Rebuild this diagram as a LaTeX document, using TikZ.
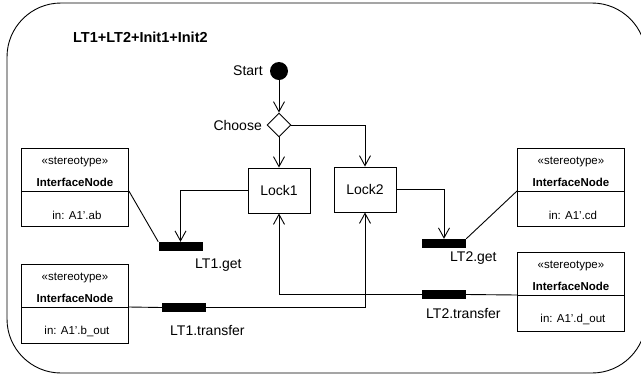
\documentclass[tikz,border=0pt]{standalone}
\usepackage{fontspec}
\setmainfont{Liberation Sans}
\usetikzlibrary{arrows.meta,shapes.geometric}

\tikzset{
  ln/.style={line width=0.9pt},
  arr/.style={ln,-{Straight Barb[length=10pt,width=11pt,line width=0.9pt]}},
  lbl/.style={inner sep=0pt,font=\fontsize{14}{16}\selectfont},
  action/.style={ln,draw,rectangle,minimum width=62pt,minimum height=45pt,inner sep=0pt,font=\fontsize{14}{16}\selectfont},
  bar/.style={fill=black,rectangle,minimum width=44pt,minimum height=9pt,inner sep=0pt},
  ifbox/.style={ln,draw,rectangle,minimum width=107pt,inner sep=0pt},
  stereo/.style={inner sep=0pt,font=\fontsize{11.5}{13}\selectfont},
  stereobf/.style={inner sep=0pt,font=\fontsize{11.5}{13}\selectfont\bfseries},
}

% interface node: name, left x, top y, height, port text
\newcommand{\ifacebox}[5]{%
  \node[ifbox,minimum height=#4pt,anchor=north west] (#1) at (#2,#3) {};
  \path (#1.north west) ++(0,43) coordinate (#1-dl);
  \path (#1.north east) ++(0,43) coordinate (#1-dr);
  \draw[ln] (#1-dl) -- (#1-dr);
  \path (#1.north) ++(0,14) node[stereo] {«stereotype»};
  \path (#1.north) ++(0,34) node[stereobf] {InterfaceNode};
  \path (#1.north) ++(2,67) node[stereo] {#5};
}

\begin{document}
\begin{tikzpicture}[x=1pt,y=-1pt]
\useasboundingbox (0,0) rectangle (641,376);

% activity frame (its right side runs past the page edge)
\draw[ln,rounded corners=54pt] (7,3) rectangle (646,373);
\node[inner sep=0pt,anchor=west,font=\fontsize{14.5}{17}\selectfont\bfseries] (title) at (73,37) {LT1+LT2+Init1+Init2};

% control flow
\node[circle,fill=black,minimum size=18pt,inner sep=0pt] (start) at (279,71) {};
\node[ln,draw,diamond,minimum width=24pt,minimum height=24pt,inner sep=0pt] (choose) at (279,125) {};
\node[lbl,anchor=east] (startlbl) at (263,71) {Start};
\node[lbl,anchor=east] (chooselbl) at (262,125) {Choose};

\node[action] (lock1) at (279,190.5) {Lock1};
\node[action] (lock2) at (365,189.5) {Lock2};

% pins
\node[bar] (get1) at (180.5,246.5) {};
\node[bar] (get2) at (444,243.5) {};
\node[bar] (tr1) at (184,307.5) {};
\node[bar] (tr2) at (444,294.5) {};

\node[lbl,anchor=west] (get1lbl) at (195,265) {LT1.get};
\node[lbl,anchor=west] (tr1lbl) at (170,330) {LT1.transfer};
\node[lbl,anchor=west] (get2lbl) at (450,258) {LT2.get};
\node[lbl,anchor=west] (tr2lbl) at (426,313) {LT2.transfer};

% interface nodes
\ifacebox{b1}{21}{148}{78}{in: A1’.ab}
\ifacebox{b3}{517}{148}{78}{in: A1’.cd}
\ifacebox{b2}{21}{264}{79}{in: A1’.b\_out}
\ifacebox{b4}{517}{252}{79}{in: A1’.d\_out}

% edges
\draw[arr] (start) -- (choose.north);
\draw[arr] (choose.south) -- (lock1.north);
\draw[arr] (choose.east) -| (lock2.north);
\draw[arr] (lock1.west) -| (get1.north);
\draw[arr] (lock2.east) -| (get2.north);
\draw[ln] (b1-dr) -- (get1.north west);
\draw[ln] (get2.north east) -- (b3-dl);
\draw[ln] (b2-dr) -- (tr1.west);
\draw[arr] (tr1.east) -| (lock2.south);
\draw[ln] (b4-dl) -- (tr2.east);
\draw[arr] (tr2.west) -| (lock1.south);
\end{tikzpicture}
\end{document}
